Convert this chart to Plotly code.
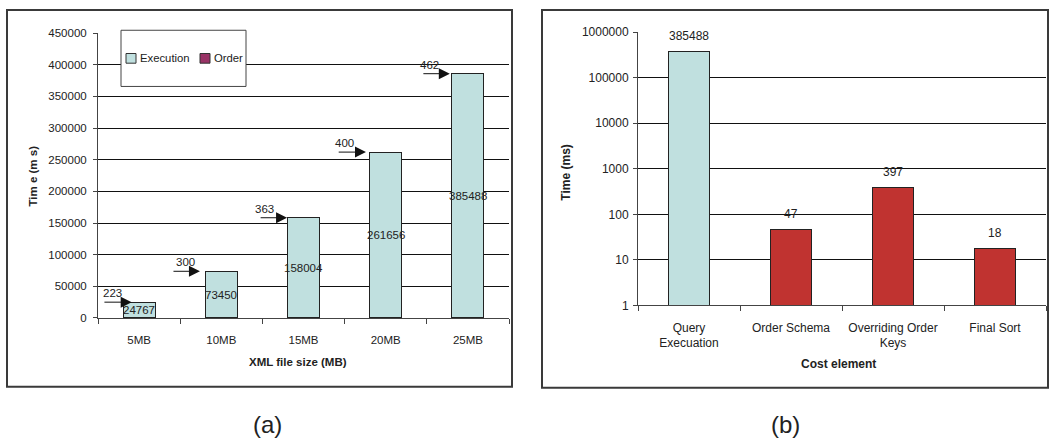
import numpy as np
import plotly.graph_objects as go

# ---------------- data ----------------
sizes = ["5MB", "10MB", "15MB", "20MB", "25MB"]
execution_ms = [24767, 73450, 158004, 261656, 385488]
order_ms = [223, 300, 363, 400, 462]

cost_elements = ["Query<br>Execuation", "Order Schema", "Overriding Order<br>Keys", "Final Sort"]
cost_ms = [385488, 47, 397, 18]

left_yticks = [0, 50000, 100000, 150000, 200000, 250000, 300000, 350000, 400000, 450000]
right_yticks = [1, 10, 100, 1000, 10000, 100000, 1000000]

# ---------------- styling ----------------
W, H = 1049, 448
TEAL = "#c0e0df"
ORDER = "#993366"
RED = "#c03330"
TXT = "#222222"
FONT = "Liberation Sans, Arial, sans-serif"


def px(x):
    return x / W


def py(y):
    return 1 - y / H


fig = go.Figure()

# left panel: stacked execution + order
fig.add_trace(go.Bar(
    x=sizes, y=execution_ms, name="Execution", width=0.39,
    marker=dict(color=TEAL, line=dict(color="#222", width=1)),
    xaxis="x", yaxis="y", showlegend=False,
))
fig.add_trace(go.Bar(
    x=sizes, y=order_ms, name="Order", width=0.39,
    marker=dict(color=ORDER, line=dict(color="#222", width=1)),
    xaxis="x", yaxis="y", showlegend=False,
))

# right panel
fig.add_trace(go.Bar(
    x=cost_elements, y=cost_ms, width=0.4, showlegend=False,
    marker=dict(color=[TEAL, RED, RED, RED], line=dict(color="#222", width=1)),
    xaxis="x2", yaxis="y2",
))

annotations = []
# execution labels centered inside bars
for i, e in enumerate(execution_ms):
    annotations.append(dict(x=i, y=e / 2, xref="x", yref="y", text=str(e), showarrow=False,
                            xanchor="center", yanchor="middle",
                            font=dict(size=11.5, color=TXT, family=FONT)))

# arrows pointing at order segment
tip_off = [-0.09, -0.26, -0.2, -0.24, -0.22]
tail_off = [-0.44, -0.6, -0.54, -0.59, -0.56]
lab_off = [-0.32, -0.44, -0.47, -0.5, -0.47]
for i, (e, o) in enumerate(zip(execution_ms, order_ms)):
    top = e + o
    annotations.append(dict(x=i + tip_off[i], y=top, xref="x", yref="y",
                            ax=i + tail_off[i], ay=top, axref="x", ayref="y",
                            text="", showarrow=True, arrowhead=2, arrowsize=2.2,
                            arrowwidth=1, arrowcolor="#111", standoff=0))
    annotations.append(dict(x=i + lab_off[i], y=top, xref="x", yref="y", text=str(o),
                            showarrow=False, xanchor="center", yanchor="bottom", yshift=1,
                            font=dict(size=11.5, color=TXT, family=FONT)))

# right panel value labels
for i, v in enumerate(cost_ms):
    annotations.append(dict(x=i, y=np.log10(v), xref="x2", yref="y2", text=str(v),
                            showarrow=False, xanchor="center", yanchor="bottom", yshift=6,
                            font=dict(size=12, color=TXT, family=FONT)))


def ptext(x, y, text, size, angle=0):
    return dict(x=px(x), y=py(y), xref="paper", yref="paper", text=text, textangle=angle,
                showarrow=False, xanchor="center", yanchor="middle",
                font=dict(size=size, color=TXT, family=FONT))


# axis titles and captions
annotations += [
    ptext(33, 175, "<b>Tim e (m s)</b>", 11.5, -90),
    ptext(298, 366, "<b>XML file size (MB)</b>", 11.5),
    ptext(566, 171, "<b>Time (ms)</b>", 12, -90),
    ptext(838, 368, "<b>Cost element</b>", 12),
    ptext(267, 431, "(a)", 24),
    ptext(785, 431, "(b)", 24),
]

# manual legend (inside framed box)
legend_names = ["Execution", "Order"]
legend_colors = [TEAL, ORDER]
legend_sq_x = [126, 200]
for name, col, sx in zip(legend_names, legend_colors, legend_sq_x):
    annotations.append(dict(x=px(sx + 12), y=py(53), xref="paper", yref="paper", text=name,
                            showarrow=False, xanchor="left", yanchor="middle",
                            font=dict(size=11.3, color=TXT, family=FONT)))

shapes = [
    dict(type="rect", xref="paper", yref="paper", x0=px(7), x1=px(512), y0=py(392), y1=py(3),
         line=dict(color="#3a3a3a", width=2)),
    dict(type="rect", xref="paper", yref="paper", x0=px(542), x1=px(1048), y0=py(393), y1=py(3),
         line=dict(color="#3a3a3a", width=2)),
    # legend frame
    dict(type="rect", xref="paper", yref="paper", x0=px(121), x1=px(246), y0=py(82), y1=py(24),
         line=dict(color="#444", width=1), fillcolor="white", layer="above"),
]
for col, sx in zip(legend_colors, legend_sq_x):
    shapes.append(dict(type="rect", xref="paper", yref="paper", x0=px(sx), x1=px(sx + 10),
                       y0=py(58), y1=py(48), fillcolor=col, line=dict(color="#333", width=1),
                       layer="above"))

axis_common = dict(showline=True, linecolor="#444", linewidth=1, ticks="outside",
                   tickcolor="#444", tickfont=dict(size=11.5, color=TXT, family=FONT))

fig.update_layout(
    width=W, height=H, margin=dict(l=0, r=0, t=0, b=0),
    paper_bgcolor="white", plot_bgcolor="white",
    barmode="stack",
    font=dict(family=FONT, color=TXT),
    xaxis=dict(domain=[px(98), px(509)], anchor="y", tickson="boundaries", ticklen=5,
               showgrid=False, ticklabelstandoff=11, **axis_common),
    yaxis=dict(domain=[py(321), py(27)], anchor="x", range=[0, 450000], tickvals=left_yticks,
               ticktext=[str(v) for v in left_yticks], ticklabelstandoff=4,
               showgrid=True, gridcolor="#111", gridwidth=1, zeroline=False, ticklen=4,
               **axis_common),
    xaxis2=dict(domain=[px(638), px(1046)], anchor="y2", tickson="boundaries", ticklen=5,
                showgrid=False, ticklabelstandoff=11,
                **{**axis_common, "tickfont": dict(size=12, color=TXT, family=FONT)}),
    yaxis2=dict(domain=[py(308), py(26)], anchor="x2", type="log", range=[0, 6],
                tickvals=right_yticks, ticktext=[str(v) for v in right_yticks],
                ticklabelstandoff=2,
                showgrid=True, gridcolor="#111", gridwidth=1, zeroline=False, ticklen=4,
                **{**axis_common, "tickfont": dict(size=12, color=TXT, family=FONT)}),
    showlegend=False,
    annotations=annotations, shapes=shapes,
)

fig.write_html("out.html")
